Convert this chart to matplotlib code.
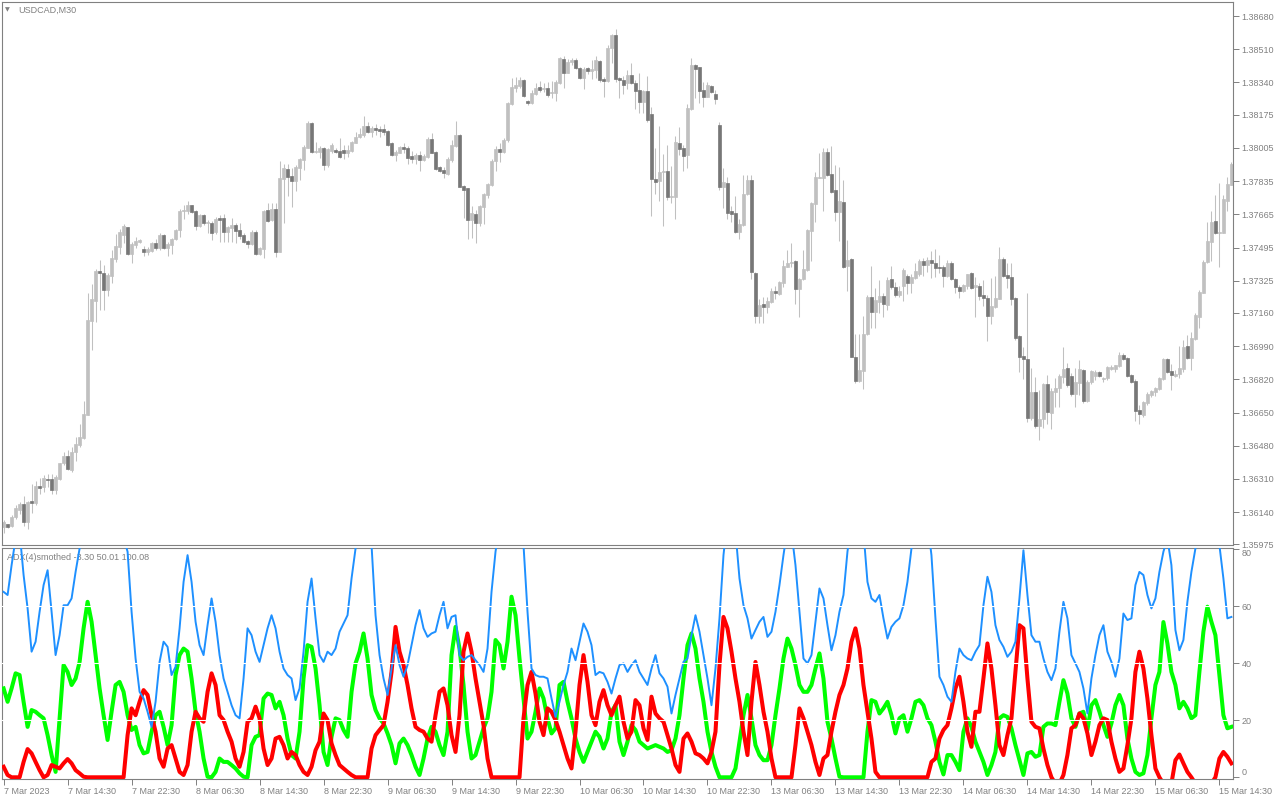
import matplotlib
matplotlib.use("Agg")
import matplotlib.pyplot as plt
import numpy as np

plt.rcParams["font.family"] = ["Liberation Sans", "DejaVu Sans"]

# %% data: USDCAD M30 candles (bar 0 = 7 Mar 2023 06:30)
opens = [
    1.36065, 1.36077, 1.36070, 1.36113, 1.36150, 1.36181, 1.36090, 1.36196, 1.36188, 1.36273,
    1.36270, 1.36312, 1.36312, 1.36252, 1.36309, 1.36392, 1.36430, 1.36355, 1.36449, 1.36483,
    1.36522, 1.36637, 1.37120, 1.37222, 1.37374, 1.37367, 1.37277, 1.37350, 1.37435, 1.37499,
    1.37558, 1.37598, 1.37461, 1.37507, 1.37521, 1.37487, 1.37473, 1.37478, 1.37516, 1.37493,
    1.37558, 1.37492, 1.37507, 1.37538, 1.37584, 1.37681, 1.37681, 1.37712, 1.37681, 1.37604,
    1.37661, 1.37622, 1.37623, 1.37572, 1.37644, 1.37644, 1.37572, 1.37596, 1.37610, 1.37584,
    1.37558, 1.37528, 1.37512, 1.37575, 1.37461, 1.37487, 1.37686, 1.37635, 1.37691, 1.37473,
    1.37848, 1.37896, 1.37860, 1.37836, 1.37900, 1.37943, 1.38006, 1.38134, 1.37984, 1.37986,
    1.38006, 1.37917, 1.37991, 1.37994, 1.37989, 1.37994, 1.37981, 1.37989, 1.38032, 1.38059,
    1.38069, 1.38117, 1.38086, 1.38105, 1.38102, 1.38102, 1.38092, 1.38032, 1.37969, 1.37981,
    1.38010, 1.38006, 1.37964, 1.37946, 1.37969, 1.37943, 1.37960, 1.38051, 1.37984, 1.37909,
    1.37892, 1.37871, 1.37943, 1.38015, 1.38071, 1.37810, 1.37798, 1.37636, 1.37667, 1.37622,
    1.37704, 1.37766, 1.37817, 1.37938, 1.37999, 1.37982, 1.38045, 1.38232, 1.38312, 1.38322,
    1.38353, 1.38245, 1.38233, 1.38281, 1.38319, 1.38308, 1.38310, 1.38284, 1.38288, 1.38339,
    1.38460, 1.38390, 1.38447, 1.38455, 1.38416, 1.38365, 1.38416, 1.38401, 1.38404, 1.38452,
    1.38358, 1.38348, 1.38515, 1.38583, 1.38361, 1.38353, 1.38336, 1.38378, 1.38339, 1.38301,
    1.38242, 1.38296, 1.38179, 1.37846, 1.37836, 1.37883, 1.37887, 1.37755, 1.37755, 1.38028,
    1.38006, 1.37969, 1.38204, 1.38430, 1.38418, 1.38301, 1.38267, 1.38322, 1.38281, 1.38122,
    1.37806, 1.37827, 1.37682, 1.37673, 1.37576, 1.37612, 1.37769, 1.37841, 1.37366, 1.37146,
    1.37206, 1.37189, 1.37214, 1.37274, 1.37257, 1.37315, 1.37397, 1.37417, 1.37426, 1.37284,
    1.37332, 1.37380, 1.37581, 1.37718, 1.37849, 1.37849, 1.37986, 1.37871, 1.37789, 1.37678,
    1.37730, 1.37400, 1.37436, 1.36936, 1.36811, 1.36864, 1.37052, 1.37243, 1.37166, 1.37218,
    1.37247, 1.37201, 1.37334, 1.37294, 1.37252, 1.37298, 1.37349, 1.37315, 1.37337, 1.37359,
    1.37426, 1.37405, 1.37431, 1.37414, 1.37396, 1.37396, 1.37349, 1.37417, 1.37333, 1.37294,
    1.37274, 1.37300, 1.37362, 1.37294, 1.37298, 1.37252, 1.37238, 1.37146, 1.37188, 1.37231,
    1.37436, 1.37354, 1.37345, 1.37238, 1.37041, 1.36939, 1.36924, 1.36620, 1.36753, 1.36581,
    1.36615, 1.36796, 1.36649, 1.36757, 1.36774, 1.36833, 1.36876, 1.36837, 1.36744, 1.36799,
    1.36867, 1.36710, 1.36804, 1.36837, 1.36859, 1.36823, 1.36825, 1.36873, 1.36873, 1.36890,
    1.36947, 1.36927, 1.36842, 1.36811, 1.36662, 1.36637, 1.36700, 1.36739, 1.36753, 1.36770,
    1.36821, 1.36922, 1.36862, 1.36838, 1.36847, 1.36871, 1.36990, 1.36931, 1.37026, 1.37140,
    1.37263, 1.37419, 1.37525, 1.37632, 1.37567, 1.37571, 1.37735, 1.37815,
]
highs = [
    1.36099, 1.36082, 1.36128, 1.36176, 1.36193, 1.36222, 1.36196, 1.36283, 1.36299, 1.36316,
    1.36329, 1.36333, 1.36338, 1.36329, 1.36394, 1.36449, 1.36457, 1.36474, 1.36526, 1.36594,
    1.36708, 1.37260, 1.37307, 1.37383, 1.37430, 1.37405, 1.37365, 1.37482, 1.37563, 1.37589,
    1.37613, 1.37601, 1.37524, 1.37550, 1.37538, 1.37504, 1.37499, 1.37524, 1.37541, 1.37567,
    1.37563, 1.37524, 1.37546, 1.37592, 1.37690, 1.37712, 1.37734, 1.37715, 1.37686, 1.37669,
    1.37669, 1.37635, 1.37632, 1.37649, 1.37664, 1.37666, 1.37604, 1.37644, 1.37622, 1.37622,
    1.37567, 1.37533, 1.37584, 1.37584, 1.37499, 1.37686, 1.37721, 1.37724, 1.37721, 1.37937,
    1.37922, 1.37922, 1.37900, 1.37917, 1.37954, 1.38020, 1.38143, 1.38139, 1.38037, 1.38015,
    1.38011, 1.38003, 1.38028, 1.38003, 1.38057, 1.38020, 1.38020, 1.38042, 1.38088, 1.38105,
    1.38168, 1.38139, 1.38117, 1.38127, 1.38117, 1.38127, 1.38097, 1.38037, 1.37994, 1.38016,
    1.38028, 1.38015, 1.37989, 1.37981, 1.37991, 1.37972, 1.38063, 1.38080, 1.37989, 1.37914,
    1.37909, 1.37957, 1.38045, 1.38144, 1.38074, 1.37815, 1.37801, 1.37707, 1.37687, 1.37713,
    1.37776, 1.37827, 1.37946, 1.38015, 1.38028, 1.38054, 1.38242, 1.38361, 1.38370, 1.38366,
    1.38356, 1.38250, 1.38302, 1.38336, 1.38348, 1.38336, 1.38341, 1.38349, 1.38353, 1.38472,
    1.38476, 1.38459, 1.38464, 1.38464, 1.38421, 1.38418, 1.38421, 1.38455, 1.38477, 1.38455,
    1.38370, 1.38532, 1.38588, 1.38612, 1.38370, 1.38373, 1.38404, 1.38442, 1.38353, 1.38390,
    1.38301, 1.38373, 1.38213, 1.38006, 1.38117, 1.37974, 1.38020, 1.37914, 1.38066, 1.38110,
    1.38020, 1.38230, 1.38464, 1.38435, 1.38421, 1.38344, 1.38344, 1.38327, 1.38301, 1.38136,
    1.37904, 1.37858, 1.37707, 1.37759, 1.37639, 1.37866, 1.37866, 1.37866, 1.37371, 1.37230,
    1.37240, 1.37240, 1.37289, 1.37298, 1.37325, 1.37431, 1.37482, 1.37520, 1.37431, 1.37337,
    1.37482, 1.37588, 1.37730, 1.37883, 1.37977, 1.38003, 1.38003, 1.38015, 1.37917, 1.37909,
    1.37841, 1.37533, 1.37440, 1.37052, 1.37052, 1.37144, 1.37252, 1.37400, 1.37286, 1.37329,
    1.37264, 1.37342, 1.37400, 1.37320, 1.37298, 1.37388, 1.37362, 1.37359, 1.37414, 1.37434,
    1.37439, 1.37448, 1.37478, 1.37485, 1.37456, 1.37405, 1.37431, 1.37426, 1.37340, 1.37303,
    1.37306, 1.37362, 1.37368, 1.37345, 1.37311, 1.37328, 1.37252, 1.37337, 1.37349, 1.37499,
    1.37444, 1.37414, 1.37414, 1.37243, 1.37047, 1.36987, 1.37260, 1.36876, 1.36833, 1.36768,
    1.36803, 1.36842, 1.36774, 1.36825, 1.36847, 1.36987, 1.36905, 1.36854, 1.36876, 1.36919,
    1.36873, 1.36816, 1.36867, 1.36867, 1.36864, 1.36833, 1.36888, 1.36893, 1.36896, 1.36961,
    1.36956, 1.36936, 1.36850, 1.36820, 1.36688, 1.36710, 1.36756, 1.36768, 1.36782, 1.36833,
    1.36927, 1.36927, 1.36898, 1.36867, 1.36992, 1.37021, 1.37047, 1.37064, 1.37158, 1.37277,
    1.37431, 1.37627, 1.37682, 1.37764, 1.37823, 1.37764, 1.37857, 1.37934,
]
lows = [
    1.36034, 1.36058, 1.36065, 1.36107, 1.36133, 1.36070, 1.36056, 1.36136, 1.36176, 1.36235,
    1.36244, 1.36270, 1.36235, 1.36232, 1.36304, 1.36381, 1.36355, 1.36346, 1.36403, 1.36474,
    1.36517, 1.36637, 1.36969, 1.37115, 1.37174, 1.37174, 1.37246, 1.37311, 1.37422, 1.37461,
    1.37516, 1.37456, 1.37417, 1.37490, 1.37516, 1.37451, 1.37456, 1.37473, 1.37481, 1.37481,
    1.37487, 1.37453, 1.37464, 1.37533, 1.37550, 1.37640, 1.37669, 1.37673, 1.37584, 1.37598,
    1.37610, 1.37567, 1.37536, 1.37563, 1.37524, 1.37524, 1.37524, 1.37524, 1.37519, 1.37541,
    1.37516, 1.37490, 1.37507, 1.37456, 1.37456, 1.37442, 1.37627, 1.37632, 1.37447, 1.37473,
    1.37618, 1.37760, 1.37700, 1.37785, 1.37840, 1.37892, 1.38003, 1.37981, 1.37977, 1.37952,
    1.37892, 1.37909, 1.37977, 1.37977, 1.37955, 1.37950, 1.37960, 1.37986, 1.38028, 1.38054,
    1.38063, 1.38080, 1.38059, 1.38071, 1.38063, 1.38071, 1.38015, 1.37964, 1.37940, 1.37977,
    1.37977, 1.37923, 1.37926, 1.37923, 1.37888, 1.37940, 1.37955, 1.37977, 1.37892, 1.37883,
    1.37849, 1.37866, 1.37931, 1.38011, 1.37803, 1.37648, 1.37537, 1.37542, 1.37520, 1.37605,
    1.37614, 1.37747, 1.37810, 1.37887, 1.37935, 1.37977, 1.38037, 1.38225, 1.38293, 1.38313,
    1.38264, 1.38225, 1.38230, 1.38276, 1.38293, 1.38293, 1.38267, 1.38259, 1.38247, 1.38332,
    1.38310, 1.38387, 1.38430, 1.38407, 1.38358, 1.38307, 1.38382, 1.38356, 1.38361, 1.38341,
    1.38267, 1.38344, 1.38438, 1.38341, 1.38262, 1.38281, 1.38307, 1.38332, 1.38204, 1.38185,
    1.38185, 1.38139, 1.37658, 1.37769, 1.37735, 1.37607, 1.37738, 1.37725, 1.37643, 1.37969,
    1.37888, 1.37904, 1.38199, 1.38262, 1.38237, 1.38216, 1.38264, 1.38284, 1.38228, 1.37789,
    1.37696, 1.37641, 1.37627, 1.37568, 1.37537, 1.37605, 1.37764, 1.37332, 1.37110, 1.37107,
    1.37107, 1.37161, 1.37209, 1.37230, 1.37252, 1.37294, 1.37393, 1.37397, 1.37206, 1.37141,
    1.37329, 1.37376, 1.37428, 1.37627, 1.37849, 1.37684, 1.37861, 1.37776, 1.37632, 1.37530,
    1.37388, 1.37274, 1.36933, 1.36803, 1.36808, 1.36769, 1.37047, 1.37081, 1.37081, 1.37161,
    1.37141, 1.37175, 1.37281, 1.37240, 1.37243, 1.37222, 1.37257, 1.37260, 1.37332, 1.37349,
    1.37349, 1.37371, 1.37340, 1.37345, 1.37366, 1.37291, 1.37342, 1.37328, 1.37260, 1.37238,
    1.37269, 1.37281, 1.37281, 1.37140, 1.37226, 1.37195, 1.37018, 1.37106, 1.37183, 1.37231,
    1.37345, 1.37286, 1.37200, 1.37024, 1.36859, 1.36821, 1.36603, 1.36611, 1.36569, 1.36512,
    1.36569, 1.36594, 1.36564, 1.36680, 1.36680, 1.36799, 1.36782, 1.36734, 1.36680, 1.36739,
    1.36697, 1.36705, 1.36794, 1.36816, 1.36833, 1.36804, 1.36816, 1.36867, 1.36859, 1.36884,
    1.36919, 1.36833, 1.36803, 1.36608, 1.36594, 1.36628, 1.36688, 1.36731, 1.36734, 1.36765,
    1.36816, 1.36854, 1.36765, 1.36833, 1.36828, 1.36859, 1.36922, 1.36867, 1.37024, 1.37081,
    1.37260, 1.37414, 1.37426, 1.37564, 1.37393, 1.37567, 1.37682, 1.37815,
]
closes = [
    1.36090, 1.36065, 1.36113, 1.36162, 1.36181, 1.36090, 1.36193, 1.36188, 1.36273, 1.36264,
    1.36317, 1.36305, 1.36252, 1.36321, 1.36394, 1.36430, 1.36360, 1.36449, 1.36491, 1.36526,
    1.36645, 1.37123, 1.37231, 1.37374, 1.37365, 1.37277, 1.37354, 1.37439, 1.37502, 1.37572,
    1.37604, 1.37461, 1.37512, 1.37528, 1.37533, 1.37473, 1.37487, 1.37519, 1.37493, 1.37558,
    1.37492, 1.37511, 1.37541, 1.37584, 1.37681, 1.37686, 1.37712, 1.37678, 1.37606, 1.37661,
    1.37622, 1.37627, 1.37570, 1.37639, 1.37635, 1.37575, 1.37598, 1.37610, 1.37581, 1.37555,
    1.37524, 1.37512, 1.37572, 1.37461, 1.37490, 1.37681, 1.37632, 1.37691, 1.37473, 1.37852,
    1.37900, 1.37857, 1.37836, 1.37905, 1.37947, 1.38011, 1.38134, 1.37986, 1.37989, 1.38006,
    1.37917, 1.37998, 1.38020, 1.37984, 1.37958, 1.37981, 1.37994, 1.38035, 1.38063, 1.38076,
    1.38117, 1.38086, 1.38109, 1.38097, 1.38092, 1.38088, 1.38020, 1.37969, 1.37986, 1.38011,
    1.38001, 1.37955, 1.37950, 1.37969, 1.37943, 1.37964, 1.38051, 1.37981, 1.37899, 1.37888,
    1.37878, 1.37946, 1.38020, 1.38071, 1.37806, 1.37789, 1.37636, 1.37673, 1.37622, 1.37707,
    1.37769, 1.37820, 1.37938, 1.37999, 1.37986, 1.38045, 1.38235, 1.38317, 1.38327, 1.38353,
    1.38271, 1.38237, 1.38284, 1.38310, 1.38302, 1.38312, 1.38276, 1.38293, 1.38342, 1.38464,
    1.38390, 1.38447, 1.38455, 1.38412, 1.38365, 1.38409, 1.38401, 1.38407, 1.38455, 1.38353,
    1.38348, 1.38515, 1.38583, 1.38358, 1.38353, 1.38327, 1.38378, 1.38339, 1.38296, 1.38242,
    1.38296, 1.38148, 1.37846, 1.37832, 1.37880, 1.37887, 1.37755, 1.37759, 1.38034, 1.37999,
    1.37964, 1.38208, 1.38430, 1.38409, 1.38296, 1.38267, 1.38327, 1.38293, 1.38255, 1.37806,
    1.37829, 1.37673, 1.37667, 1.37576, 1.37615, 1.37769, 1.37841, 1.37371, 1.37146, 1.37201,
    1.37192, 1.37221, 1.37272, 1.37264, 1.37317, 1.37400, 1.37417, 1.37421, 1.37284, 1.37334,
    1.37385, 1.37585, 1.37721, 1.37858, 1.37858, 1.37986, 1.37866, 1.37781, 1.37678, 1.37733,
    1.37397, 1.37431, 1.36936, 1.36811, 1.36868, 1.37052, 1.37243, 1.37166, 1.37226, 1.37247,
    1.37204, 1.37329, 1.37291, 1.37252, 1.37274, 1.37379, 1.37315, 1.37345, 1.37374, 1.37426,
    1.37405, 1.37431, 1.37417, 1.37391, 1.37391, 1.37349, 1.37417, 1.37333, 1.37294, 1.37274,
    1.37303, 1.37359, 1.37289, 1.37303, 1.37248, 1.37235, 1.37146, 1.37195, 1.37238, 1.37436,
    1.37349, 1.37337, 1.37231, 1.37033, 1.36936, 1.36922, 1.36620, 1.36753, 1.36581, 1.36615,
    1.36796, 1.36654, 1.36762, 1.36777, 1.36837, 1.36871, 1.36791, 1.36744, 1.36808, 1.36873,
    1.36710, 1.36808, 1.36862, 1.36859, 1.36838, 1.36828, 1.36884, 1.36881, 1.36893, 1.36947,
    1.36924, 1.36838, 1.36808, 1.36659, 1.36645, 1.36705, 1.36743, 1.36762, 1.36777, 1.36828,
    1.36922, 1.36859, 1.36842, 1.36847, 1.36876, 1.36987, 1.36931, 1.37033, 1.37149, 1.37269,
    1.37422, 1.37530, 1.37627, 1.37567, 1.37576, 1.37741, 1.37820, 1.37922,
]

# %% data: ADX(4) smoothed
adx_line = [
    65.1, 64.0, 74.5, 83.8, 86.2, 71.0, 59.3, 44.1, 47.6, 58.1,
    67.5, 72.7, 58.1, 42.9, 49.9, 60.4, 60.4, 62.8, 72.1, 80.3,
    86.2, 90.0, 93.0, 95.0, 96.0, 96.0, 95.0, 93.0, 91.0, 88.0,
    84.0, 79.2, 58.1, 41.7, 30.0, 27.7, 23.0, 17.7, 26.5, 40.5,
    47.6, 45.8, 35.9, 38.8, 52.3, 68.6, 78.0, 68.6, 54.6, 46.4,
    42.9, 53.4, 62.8, 54.6, 42.9, 34.7, 30.0, 25.3, 21.8, 20.7,
    34.7, 52.3, 49.9, 44.1, 40.5, 46.4, 52.3, 56.9, 52.3, 44.1,
    38.2, 35.9, 34.7, 27.1, 31.2, 44.1, 61.6, 69.8, 55.8, 42.9,
    40.5, 44.1, 42.9, 45.2, 51.1, 54.0, 56.9, 69.8, 80.3, 88.5,
    90.9, 88.5, 81.5, 56.9, 42.9, 34.7, 28.9, 38.2, 46.4, 39.4,
    35.3, 39.4, 46.4, 53.4, 58.7, 52.3, 49.3, 50.5, 51.1, 56.9,
    61.6, 52.3, 56.3, 56.9, 42.9, 41.1, 42.3, 42.9, 41.1, 39.4,
    37.0, 45.2, 65.1, 79.2, 88.5, 93.2, 94.4, 93.2, 90.9, 86.2,
    81.5, 58.1, 38.2, 35.9, 35.3, 35.3, 34.7, 27.7, 21.2, 26.5,
    32.4, 37.0, 45.2, 41.1, 47.6, 54.0, 51.1, 46.4, 35.9, 37.0,
    36.5, 33.5, 29.4, 34.7, 39.4, 40.0, 37.0, 39.4, 41.1, 37.0,
    34.7, 32.4, 38.2, 42.9, 36.5, 34.7, 31.8, 22.4, 28.9, 34.7,
    40.5, 41.7, 49.9, 56.9, 51.1, 42.9, 34.7, 25.3, 38.2, 55.8,
    78.0, 90.9, 93.2, 86.2, 69.8, 60.4, 55.8, 48.7, 51.7, 54.6,
    56.3, 49.3, 51.1, 58.1, 67.5, 78.0, 87.4, 86.2, 74.5, 58.1,
    41.7, 40.0, 42.9, 54.6, 66.3, 62.8, 53.4, 44.6, 49.9, 58.1,
    64.0, 79.2, 89.7, 93.2, 92.0, 86.2, 68.6, 62.8, 61.6, 64.0,
    55.8, 48.7, 52.8, 54.6, 55.8, 60.4, 68.6, 80.3, 88.5, 92.0,
    93.2, 89.7, 78.0, 55.8, 35.3, 32.4, 28.3, 26.5, 37.0, 45.2,
    42.9, 41.7, 41.1, 44.1, 46.4, 60.4, 70.4, 65.1, 53.4, 48.2,
    45.8, 42.3, 44.1, 47.6, 62.8, 79.7, 64.0, 49.9, 47.6, 47.6,
    41.7, 37.0, 34.1, 38.2, 51.1, 61.6, 55.8, 42.9, 40.0, 37.0,
    31.2, 22.4, 34.7, 42.9, 49.9, 53.4, 44.1, 40.5, 35.3, 41.7,
    57.5, 55.2, 55.8, 67.5, 72.1, 71.0, 64.0, 59.3, 62.8, 72.1,
    79.2, 83.8, 74.5, 51.7, 44.6, 48.2, 61.6, 72.1, 80.3, 86.2,
    90.9, 92.0, 89.7, 85.0, 81.5, 69.8, 55.8, 56.3,
]
plus_di = [
    31.2, 26.5, 31.2, 36.5, 35.9, 26.5, 17.7, 23.6, 23.0, 21.8,
    20.7, 14.8, 7.8, 1.9, 20.7, 39.4, 37.0, 32.4, 34.7, 40.5,
    52.3, 61.6, 54.6, 42.9, 31.2, 21.8, 13.1, 23.0, 32.4, 33.5,
    30.0, 21.8, 16.6, 17.7, 11.3, 8.4, 8.9, 16.0, 21.8, 23.0,
    17.7, 11.3, 18.3, 35.9, 42.9, 45.2, 44.1, 34.7, 23.0, 16.0,
    6.6, 0.2, 0.0, 1.9, 6.6, 5.4, 5.4, 4.3, 3.1, 1.4,
    0.2, 0.0, 11.3, 14.2, 14.8, 27.7, 29.4, 28.9, 24.2, 26.5,
    21.8, 13.6, 7.8, 6.6, 16.0, 34.7, 46.4, 45.8, 38.2, 25.3,
    8.9, 4.3, 14.2, 20.7, 20.1, 16.6, 14.2, 30.0, 40.0, 44.1,
    50.5, 41.7, 28.9, 23.6, 20.7, 18.9, 15.4, 11.3, 4.9, 11.9,
    13.6, 11.3, 7.8, 3.7, 0.8, 6.6, 13.6, 17.7, 16.0, 11.3,
    7.8, 16.0, 42.9, 52.8, 45.2, 32.4, 16.0, 6.6, 7.8, 12.5,
    17.2, 20.7, 30.0, 48.2, 46.4, 38.2, 47.6, 63.4, 56.9, 41.7,
    27.7, 13.6, 16.0, 23.0, 31.2, 27.7, 20.7, 15.4, 17.2, 32.4,
    33.5, 26.5, 20.7, 13.6, 8.9, 5.4, 8.9, 12.5, 16.0, 14.2,
    10.1, 13.6, 23.0, 25.3, 12.5, 7.8, 12.5, 18.3, 16.6, 12.5,
    11.3, 10.1, 10.7, 11.3, 10.7, 10.1, 8.9, 9.5, 13.6, 21.8,
    34.7, 46.4, 50.5, 45.2, 34.7, 26.5, 16.0, 8.9, 3.7, 0.0,
    0.0, 0.0, 0.0, 3.1, 12.5, 21.8, 28.9, 20.7, 11.3, 7.8,
    6.0, 6.0, 11.3, 21.8, 31.2, 41.7, 48.7, 45.2, 39.4, 32.4,
    30.0, 30.0, 32.4, 38.2, 43.5, 34.7, 19.5, 13.6, 6.6, 0.2,
    0.0, 0.0, 0.0, 0.0, 0.0, 0.0, 16.0, 27.1, 26.5, 22.4,
    24.2, 26.5, 21.8, 15.4, 20.7, 21.8, 16.0, 20.7, 26.5, 27.1,
    25.3, 20.7, 18.3, 12.5, 5.4, 1.0, 7.8, 7.8, 5.4, 2.5,
    16.0, 20.7, 17.7, 12.5, 8.9, 5.4, 0.8, 4.3, 8.9, 20.7,
    21.8, 21.2, 17.2, 11.3, 6.0, 0.8, 8.4, 8.9, 7.2, 7.8,
    17.7, 18.9, 18.9, 18.3, 26.5, 34.1, 29.4, 20.7, 17.7, 22.4,
    23.0, 16.6, 25.3, 27.1, 23.0, 18.3, 14.2, 18.9, 25.3, 28.9,
    25.3, 13.6, 6.6, 1.9, 0.8, 1.4, 7.8, 20.7, 32.4, 37.0,
    54.5, 47.0, 37.0, 32.4, 24.2, 26.5, 24.2, 20.7, 21.8, 37.0,
    51.1, 59.9, 54.6, 49.9, 35.9, 21.8, 17.2, 17.7,
]
minus_di = [
    3.7, 0.8, 0.0, 0.0, 0.0, 5.4, 9.9, 8.4, 5.4, 2.5,
    0.0, 0.8, 4.3, 3.7, 3.1, 4.9, 6.4, 4.9, 2.5, 1.4,
    0.2, 0.0, 0.0, 0.0, 0.0, 0.0, 0.0, 0.0, 0.0, 0.0,
    0.0, 14.8, 24.2, 21.8, 26.5, 30.6, 28.9, 21.8, 16.0, 6.6,
    3.7, 10.1, 11.3, 6.6, 1.9, 0.8, 4.3, 16.0, 23.0, 20.7,
    19.5, 30.0, 36.5, 32.4, 21.8, 20.1, 16.0, 12.5, 6.6, 3.7,
    8.9, 19.5, 20.7, 24.8, 20.7, 10.1, 4.3, 6.6, 13.6, 14.2,
    11.3, 6.6, 8.9, 7.8, 4.3, 1.9, 0.8, 3.7, 9.5, 12.5,
    22.4, 20.1, 11.9, 7.8, 4.3, 3.1, 1.9, 0.8, 0.0, 0.0,
    0.0, 0.0, 10.1, 14.8, 16.6, 18.3, 26.5, 37.0, 52.8, 44.1,
    39.4, 32.4, 24.2, 17.7, 16.6, 16.0, 13.6, 12.5, 21.8, 30.0,
    31.2, 25.3, 14.8, 8.9, 21.8, 44.1, 50.5, 44.1, 34.7, 26.5,
    18.3, 6.6, 0.0, 0.0, 0.0, 0.0, 0.0, 0.0, 0.0, 0.0,
    20.7, 32.4, 37.0, 29.4, 19.5, 14.8, 24.2, 23.0, 20.1, 16.0,
    11.3, 6.6, 3.1, 16.0, 32.4, 42.9, 33.5, 21.8, 18.3, 26.5,
    30.6, 25.3, 21.8, 25.3, 28.3, 19.5, 13.6, 16.0, 27.1, 25.3,
    17.2, 13.1, 28.3, 22.4, 20.7, 19.5, 14.8, 10.1, 4.3, 1.9,
    13.6, 15.4, 12.5, 8.4, 7.8, 6.6, 4.9, 8.9, 16.0, 39.4,
    56.3, 52.3, 44.1, 34.7, 26.5, 16.0, 7.8, 26.5, 40.5, 32.4,
    23.0, 16.0, 6.6, 0.0, 0.0, 0.0, 0.0, 0.0, 11.3, 24.2,
    20.7, 16.0, 11.3, 5.4, 0.8, 6.6, 7.8, 16.0, 23.0, 28.9,
    32.4, 38.2, 47.6, 52.3, 45.2, 32.4, 23.0, 13.6, 1.9, 0.0,
    0.0, 0.0, 0.0, 0.0, 0.0, 0.0, 0.0, 0.0, 0.0, 0.0,
    0.0, 0.0, 5.4, 6.6, 13.6, 16.6, 18.3, 24.2, 31.2, 35.3,
    26.5, 16.0, 10.7, 23.0, 23.0, 34.7, 47.0, 38.2, 25.3, 11.3,
    7.8, 14.8, 20.7, 37.0, 53.4, 52.3, 34.7, 19.5, 17.7, 17.2,
    10.1, 4.3, 0.0, -2.2, -2.2, 0.8, 7.8, 17.2, 18.3, 22.4,
    20.7, 15.4, 7.8, 12.5, 18.3, 20.7, 20.1, 12.5, 6.6, 1.9,
    3.1, 11.3, 20.7, 37.0, 44.1, 38.2, 27.7, 14.8, 3.1, 0.0,
    -2.2, -2.2, -2.2, 6.0, 8.0, 4.9, 1.9, 0.0, -2.2, -2.2,
    -2.2, -2.2, -2.2, 0.0, 6.6, 8.9, 7.2, 4.9,
]

price_ticks = [1.38680, 1.38510, 1.38340, 1.38175, 1.38005, 1.37835, 1.37665, 1.37495,
               1.37325, 1.37160, 1.36990, 1.36820, 1.36650, 1.36480, 1.36310, 1.36140, 1.35975]
adx_ticks = [0, 20, 40, 60, 80]
adx_levels = [20, 40, 60]
date_ticks = [0, 16, 32, 48, 64, 80, 96, 112, 128, 144, 160, 176, 192, 208, 224, 240, 256, 272, 288, 304]
date_labels = ["7 Mar 2023", "7 Mar 14:30", "7 Mar 22:30", "8 Mar 06:30", "8 Mar 14:30",
               "8 Mar 22:30", "9 Mar 06:30", "9 Mar 14:30", "9 Mar 22:30", "10 Mar 06:30",
               "10 Mar 14:30", "10 Mar 22:30", "13 Mar 06:30", "13 Mar 14:30", "13 Mar 22:30",
               "14 Mar 06:30", "14 Mar 14:30", "14 Mar 22:30", "15 Mar 06:30", "15 Mar 14:30"]

# %% figure
W, H = 1280, 800
GRAY = "#808080"
fig = plt.figure(figsize=(W / 100, H / 100), dpi=100)
ax = fig.add_axes([2 / W, 1 - 545 / H, 1231 / W, 543 / H])
ax2 = fig.add_axes([2 / W, 1 - 779 / H, 1231 / W, 231 / H])

o = np.array(opens)
h = np.array(highs)
l = np.array(lows)
c = np.array(closes)
x = np.arange(len(c))
up = c >= o

ax.vlines(x, l, h, color="#c0c0c0", lw=0.75, zorder=1)
ax.bar(x[up], (c - o)[up], bottom=o[up], width=0.62, color="#c0c0c0",
       edgecolor="#c0c0c0", lw=0.5, zorder=2)
ax.bar(x[~up], (o - c)[~up], bottom=c[~up], width=0.62, color="#777777",
       edgecolor="#777777", lw=0.5, zorder=2)

ax.set_xlim(-0.4, 307.4)
ax.set_ylim(1.35972, 1.38752)
ax.set_xticks([])
ax.yaxis.tick_right()
ax.set_yticks(price_ticks)
ax.set_yticklabels([f"{p:.5f}" for p in price_ticks])
ax.tick_params(axis="y", direction="out", length=4, width=0.7, color=GRAY,
               labelcolor=GRAY, labelsize=6.5, pad=2)

# indicator window
ax2.plot(x, plus_di, color="#00ff00", lw=2.9, zorder=3)
ax2.plot(x, minus_di, color="#ff0000", lw=2.9, zorder=4)
ax2.plot(x, adx_line, color="#1e90ff", lw=1.4, zorder=5)
for lev in adx_levels:
    ax2.axhline(lev, color="white", lw=0.8, zorder=6)

ax2.set_xlim(-0.4, 307.4)
ax2.set_ylim(-0.6, 80.5)
ax2.yaxis.tick_right()
ax2.set_yticks(adx_ticks)
ax2.set_yticklabels([str(t) for t in adx_ticks])
ax2.tick_params(axis="y", direction="out", length=4, width=0.7, color=GRAY,
                labelcolor=GRAY, labelsize=6.5, pad=2)
ylab = ax2.get_yticklabels()
ylab[0].set_va("bottom")
ylab[-1].set_va("top")

ax2.set_xticks(date_ticks)
ax2.set_xticklabels(date_labels)
ax2.tick_params(axis="x", direction="out", length=4, width=0.7, color=GRAY,
                labelcolor=GRAY, labelsize=6.5, pad=1.5)
for t in ax2.get_xticklabels():
    t.set_ha("left")

for a in (ax, ax2):
    for s in a.spines.values():
        s.set_color(GRAY)
        s.set_linewidth(0.8)

ax2.text(5 / 1231, (779 - 557) / 231, "ADX(4)smothed -3.30 50.01 100.08",
         transform=ax2.transAxes, fontsize=6.5, color=GRAY, va="center", zorder=1)
fig.text(5 / W, 1 - 10 / H, "\u25bc", fontsize=4.5, color=GRAY, va="center",
         family=["DejaVu Sans"])
fig.text(18 / W, 1 - 10 / H, "USDCAD,M30", fontsize=6.5, color=GRAY, va="center")

fig.savefig("out.png", dpi=100)
